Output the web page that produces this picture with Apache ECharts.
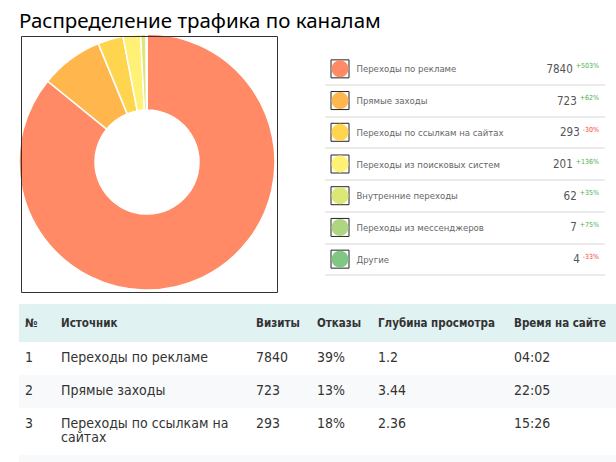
<!DOCTYPE html>
<html>
<head>
<meta charset="utf-8">
<title>Распределение трафика по каналам</title>
<script src="https://cdn.jsdelivr.net/npm/echarts@6/dist/echarts.min.js"></script>
<style>
  html, body { margin: 0; padding: 0; background: #fff; overflow: hidden; }
  #chart { position: absolute; left: 0; top: 0; width: 616px; height: 300px; }
  .stats {
    position: absolute; left: 19px; top: 304px; width: 600px;
    border-collapse: collapse; table-layout: fixed;
    font-family: Tahoma, "DejaVu Sans Condensed", "Liberation Sans", sans-serif;
    color: #333;
  }
  .stats th {
    background: #e0f2f1; font-size: 11.5px; font-weight: bold; text-align: left;
    padding: 12px 6px; line-height: 14px;
  }
  .stats td {
    font-size: 14px; padding: 8px 6px 11px 6px; line-height: 14px;
    vertical-align: top; text-align: left;
  }
  .stats tbody tr:nth-child(even) td { background: #f8f9fa; }
</style>
</head>
<body>
<div id="chart"></div>
<table class="stats">
  <colgroup>
    <col style="width:36px"><col style="width:195px"><col style="width:61px">
    <col style="width:61px"><col style="width:136px"><col>
  </colgroup>
  <thead><tr id="head"></tr></thead>
  <tbody id="rows"></tbody>
</table>
<script>
// данные
var channels = [
  "Переходы по рекламе",
  "Прямые заходы",
  "Переходы по ссылкам на сайтах",
  "Переходы из поисковых систем",
  "Внутренние переходы",
  "Переходы из мессенджеров",
  "Другие"
];
var visits = [7840, 723, 293, 201, 62, 7, 4];
var changes = [503, 62, -30, 136, 35, 75, -33];
var colors = ["#ff8a65", "#ffb74d", "#ffd54f", "#fff176", "#dce775", "#aed581", "#81c784"];

var headers = ["№", "Источник", "Визиты", "Отказы", "Глубина просмотра", "Время на сайте"];
var bounce = ["39%", "13%", "18%"];
var depth = ["1.2", "3.44", "2.36"];
var timeOnSite = ["04:02", "22:05", "15:26"];

// таблица (видны только первые три строки, четвёртая обрезана краем)
(function () {
  var head = document.getElementById("head");
  headers.forEach(function (h) {
    var th = document.createElement("th");
    th.textContent = h;
    head.appendChild(th);
  });
  var body = document.getElementById("rows");
  for (var i = 0; i < bounce.length; i++) {
    var tr = document.createElement("tr");
    var cells = [i + 1, channels[i], visits[i], bounce[i], depth[i], timeOnSite[i]];
    cells.forEach(function (c) {
      var td = document.createElement("td");
      td.textContent = c;
      tr.appendChild(td);
    });
    body.appendChild(tr);
  }
  // фон следующей строки у нижнего края
  var tail = document.createElement("tr");
  for (var k = 0; k < headers.length; k++) {
    var td = document.createElement("td");
    td.innerHTML = "&nbsp;";
    tail.appendChild(td);
  }
  body.appendChild(tail);
})();

// круговая диаграмма + легенда
(function () {
  var myChart = echarts.init(document.getElementById("chart"), null, { renderer: "svg" });
  var font = 'Tahoma, "DejaVu Sans Condensed", "Liberation Sans", sans-serif';
  var iconX = 15;

  var option = {
    animation: false,
    title: {
      text: "Распределение трафика по каналам",
      left: 19,
      top: 9,
      padding: 0,
      textStyle: {
        fontFamily: '"Noto Sans", sans-serif',
        fontSize: 20.5,
        fontWeight: "normal",
        color: "#000"
      }
    },
    graphic: [
      {
        type: "rect",
        left: 19,
        top: 34,
        z: 10,
        shape: { width: 256, height: 256 },
        style: { fill: "none", stroke: "#333", lineWidth: 1 }
      }
    ],
    grid: { left: 325, right: 11, top: 53, height: 222 },
    xAxis: { type: "value", min: 0, max: 280, show: false },
    yAxis: [
      {
        type: "category",
        inverse: true,
        data: channels,
        axisLine: { show: false },
        axisTick: { show: false },
        axisLabel: { show: false },
        splitLine: {
          show: true,
          interval: function (i) { return i > 0; },
          lineStyle: { color: "#e4e4e4", width: 1.5 }
        }
      },
      {
        type: "category",
        inverse: true,
        position: "right",
        data: channels,
        axisLine: { show: false },
        axisTick: { show: false },
        splitLine: { show: false },
        axisLabel: {
          inside: true,
          margin: 6,
          formatter: function (v, i) {
            var c = changes[i];
            var key = c >= 0 ? "up" : "dn";
            return "{v|" + visits[i] + "}{" + key + "|" + (c >= 0 ? "+" : "") + c + "%}";
          },
          rich: {
            v: { fontSize: 11.5, color: "#555", fontFamily: font },
            up: { fontSize: 7, color: "#4caf50", fontFamily: font, verticalAlign: "top", padding: [0, 0, 0, 3] },
            dn: { fontSize: 7, color: "#f44336", fontFamily: font, verticalAlign: "top", padding: [0, 0, 0, 3] }
          }
        }
      }
    ],
    series: [
      {
        name: "Каналы",
        type: "pie",
        center: [147, 162],
        radius: [52, 128],
        label: { show: false },
        labelLine: { show: false },
        itemStyle: { borderColor: "#fff", borderWidth: 1.5 },
        data: channels.map(function (n, i) {
          return { name: n, value: visits[i], itemStyle: { color: colors[i] } };
        })
      },
      {
        type: "scatter",
        symbol: "rect",
        symbolSize: 18,
        silent: true,
        itemStyle: { color: "#fff", borderColor: "#222", borderWidth: 1, opacity: 1 },
        data: channels.map(function (n, i) { return [iconX, i]; })
      },
      {
        type: "scatter",
        symbol: "circle",
        symbolSize: 17,
        z: 3,
        data: channels.map(function (n, i) {
          return { name: n, value: [iconX, i], itemStyle: { color: colors[i], opacity: 1 } };
        }),
        label: {
          show: true,
          position: "right",
          distance: 8,
          formatter: "{b}",
          fontFamily: font,
          fontSize: 9.5,
          color: "#666"
        }
      }
    ]
  };

  myChart.setOption(option);
  window.addEventListener("resize", function () {
    myChart.resize();
  });
})();
</script>
</body>
</html>
